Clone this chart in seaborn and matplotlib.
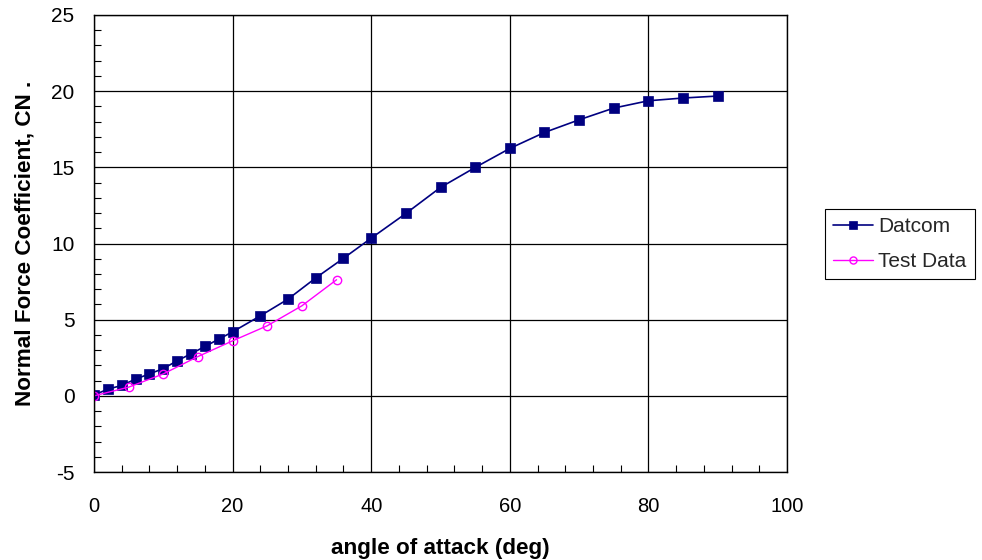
import matplotlib
matplotlib.use("Agg")
import matplotlib.pyplot as plt
from matplotlib.ticker import MultipleLocator
import seaborn as sns
import pandas as pd

# Datcom prediction
datcom_alpha = [0, 2, 4, 6, 8, 10, 12, 14, 16, 18, 20, 24, 28, 32, 36,
                40, 45, 50, 55, 60, 65, 70, 75, 80, 85, 90]
datcom_cn = [0.05, 0.44, 0.68, 1.10, 1.44, 1.79, 2.30, 2.76, 3.24, 3.72, 4.20,
             5.25, 6.35, 7.74, 9.03, 10.35, 11.97, 13.68, 14.99, 16.24,
             17.29, 18.12, 18.89, 19.37, 19.55, 19.68]

# Wind tunnel measurements
test_alpha = [0, 5, 10, 15, 20, 25, 30, 35]
test_cn = [0.0, 0.57, 1.44, 2.58, 3.61, 4.60, 5.91, 7.62]

x_ticks = [0, 20, 40, 60, 80, 100]
y_ticks = [-5, 0, 5, 10, 15, 20, 25]

datcom = pd.DataFrame({"alpha": datcom_alpha, "cn": datcom_cn})
test = pd.DataFrame({"alpha": test_alpha, "cn": test_cn})

sns.set_theme(style="white")
plt.rcParams["font.family"] = ["Liberation Sans", "DejaVu Sans"]
plt.rcParams["axes.unicode_minus"] = False

fig = plt.figure(figsize=(9.82, 5.60), dpi=100)
ax = fig.add_axes([94 / 982, 1 - 472 / 560, (787 - 94) / 982, (472 - 15) / 560])

sns.lineplot(data=datcom, x="alpha", y="cn", ax=ax, color="#000080",
             marker="s", markersize=6.5, linewidth=1.2,
             markerfacecolor="#000080", markeredgecolor="#000080",
             markeredgewidth=0.5, label="Datcom")
sns.lineplot(data=test, x="alpha", y="cn", ax=ax, color="#FF00FF",
             marker="o", markersize=6, linewidth=1.0,
             markerfacecolor="none", markeredgecolor="#FF00FF",
             markeredgewidth=1.0, label="Test Data")

ax.set_xlim(0, 100)
ax.set_ylim(-5, 25)
ax.set_xticks(x_ticks)
ax.set_yticks(y_ticks)
ax.xaxis.set_minor_locator(MultipleLocator(4))
ax.yaxis.set_minor_locator(MultipleLocator(1))
ax.tick_params(axis="both", which="major", direction="in", length=0,
               colors="black")
ax.tick_params(axis="y", which="major", labelsize=15, pad=14)
ax.tick_params(axis="x", which="major", labelsize=14.5, pad=18)
ax.tick_params(axis="both", which="minor", direction="in", length=5,
               width=0.8, colors="black", bottom=True, left=True)
ax.grid(True, which="major", color="black", linewidth=0.9)
ax.set_axisbelow(True)

for side in ["left", "bottom", "top", "right"]:
    ax.spines[side].set_visible(True)
    ax.spines[side].set_color("black")
    ax.spines[side].set_linewidth(1.0)

ax.set_xlabel("angle of attack (deg)", fontsize=16.2, fontweight="bold",
              labelpad=16, color="black")
ax.set_ylabel("Normal Force Coefficient, CN .", fontsize=16.2,
              fontweight="bold", labelpad=11, color="black")

leg = ax.legend(loc="upper left", bbox_to_anchor=(825 / 982, 1 - 209 / 560),
                bbox_transform=fig.transFigure, fontsize=15, frameon=True,
                fancybox=False, shadow=False, framealpha=1, borderpad=0.4,
                handlelength=1.9, handletextpad=0.25, labelspacing=0.75,
                borderaxespad=0, markerscale=0.85)
leg.get_frame().set_edgecolor("black")
leg.get_frame().set_linewidth(0.8)

fig.savefig("out.png", dpi=100)
